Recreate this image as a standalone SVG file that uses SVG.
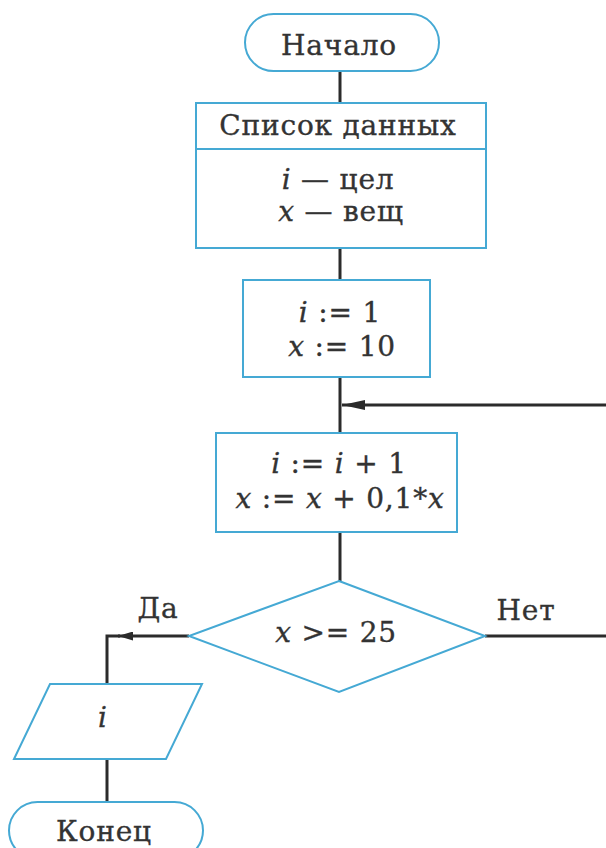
<svg xmlns="http://www.w3.org/2000/svg" width="606" height="848" viewBox="0 0 606 848">
<style>
.shape{fill:#ffffff;stroke:#45a9d4;stroke-width:2}
.line{fill:none;stroke:#2b2b2b;stroke-width:3}
.t{font-family:"DejaVu Serif","Liberation Serif",serif;font-size:28px;letter-spacing:0.8px;fill:#333333;stroke:#333333;stroke-width:0.35;text-anchor:middle}
.m{font-style:italic}
</style>
<defs>
<marker id="ahBig" markerUnits="userSpaceOnUse" markerWidth="24" markerHeight="10" refX="23" refY="5" orient="auto">
<path d="M0,0 L23,5 L0,10 Z" fill="#2b2b2b"/>
</marker>
<marker id="ahSmall" markerUnits="userSpaceOnUse" markerWidth="16" markerHeight="9" refX="15" refY="4.5" orient="auto">
<path d="M0,0 L15,4.5 L0,9 Z" fill="#2b2b2b"/>
</marker>
</defs>
<rect width="606" height="848" fill="#ffffff"/>
<g id="connectors">
<line class="line" x1="340" y1="71" x2="340" y2="103"/>
<line class="line" x1="340" y1="248" x2="340" y2="280"/>
<line class="line" x1="340" y1="377" x2="340" y2="433"/>
<line class="line" x1="610" y1="405" x2="342" y2="405" marker-end="url(#ahBig)"/>
<line class="line" x1="340" y1="532" x2="340" y2="581"/>
<path class="line" d="M485,636 H612"/>
<line class="line" x1="189" y1="636" x2="118" y2="636" marker-end="url(#ahSmall)"/>
<path class="line" d="M120,636 H107 V684"/>
<line class="line" x1="107" y1="759" x2="107" y2="802"/>
</g>
<g id="start">
<rect class="shape" x="245" y="14" width="194" height="57" rx="28.5"/>
<text class="t" x="339" y="55">Начало</text>
</g>
<g id="data">
<rect class="shape" x="196" y="103" width="290" height="145"/>
<line class="shape" x1="196" y1="149" x2="486" y2="149"/>
<text class="t" x="338" y="135">Список данных</text>
<text class="t" x="338" y="189"><tspan class="m">i</tspan> — цел</text>
<text class="t" x="341" y="221"><tspan class="m">x</tspan> — вещ</text>
</g>
<g id="init">
<rect class="shape" x="243" y="280" width="187" height="97"/>
<text class="t" x="340" y="322"><tspan class="m">i</tspan> := 1</text>
<text class="t" x="342" y="356"><tspan class="m">x</tspan> := 10</text>
</g>
<g id="update">
<rect class="shape" x="216" y="433" width="241" height="99"/>
<text class="t" x="339" y="473"><tspan class="m">i</tspan> := <tspan class="m">i</tspan> + 1</text>
<text class="t" x="340" y="508"><tspan class="m">x</tspan> := <tspan class="m">x</tspan> + 0,1*<tspan class="m">x</tspan></text>
</g>
<g id="decision">
<polygon class="shape" points="339,581 485,636 339,692 189,636"/>
<text class="t" x="336" y="642"><tspan class="m">x</tspan> &gt;= 25</text>
<text class="t" x="158" y="618">Да</text>
<text class="t" x="526" y="620">Нет</text>
</g>
<g id="output">
<polygon class="shape" points="50,684 202,684 166,759 14,759"/>
<text class="t m" x="103" y="727">i</text>
</g>
<g id="end">
<rect class="shape" x="9" y="802" width="194" height="57" rx="28.5"/>
<text class="t" x="104" y="841">Конец</text>
</g>
</svg>
